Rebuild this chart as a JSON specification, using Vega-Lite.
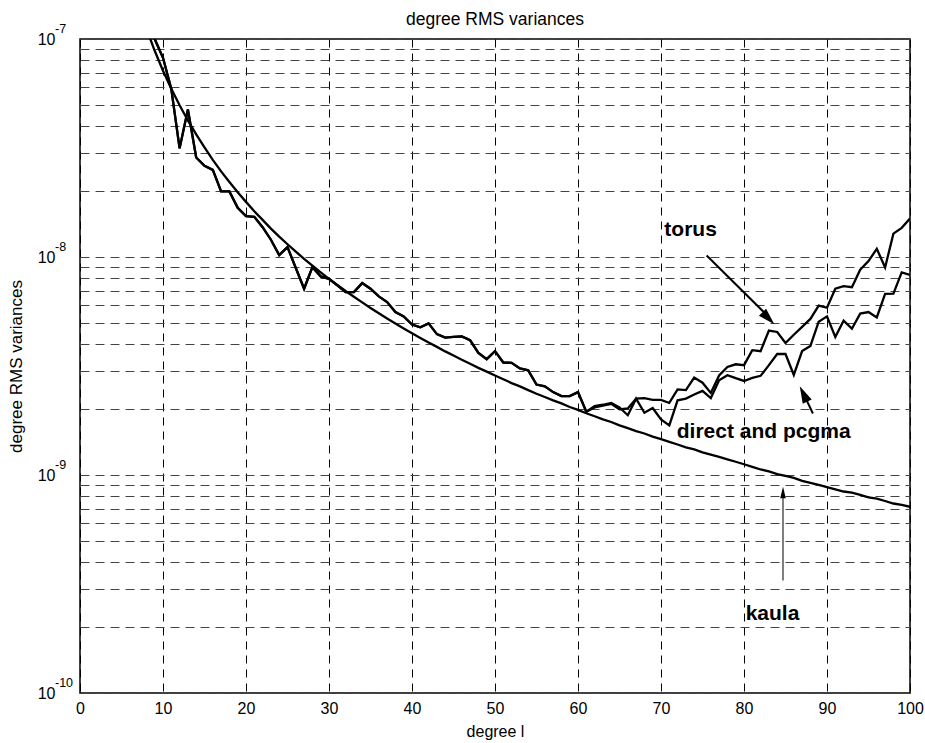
{
  "$schema": "https://vega.github.io/schema/vega-lite/v6.json",
  "width": 830,
  "height": 654,
  "autosize": {"type": "none"},
  "padding": {"left": 80, "top": 39, "right": 15, "bottom": 50},
  "background": "white",
  "config": {
    "view": {"stroke": "black", "strokeWidth": 1.5},
    "font": "Liberation Sans",
    "axis": {"labelColor": "black", "titleColor": "black", "titleFontWeight": "normal", "labelFont": "Liberation Sans", "titleFont": "Liberation Sans"}
  },
  "title": {"text": "degree RMS variances", "fontSize": 17.5, "fontWeight": "normal", "font": "Liberation Sans", "color": "black", "anchor": "middle", "frame": "group", "offset": -5},
  "datasets": {
    "curves": [
      {"l": 8, "series": "kaula", "v": 1.117e-7},
      {"l": 9, "series": "kaula", "v": 8.83e-8},
      {"l": 10, "series": "kaula", "v": 7.15e-8},
      {"l": 11, "series": "kaula", "v": 5.91e-8},
      {"l": 12, "series": "kaula", "v": 4.97e-8},
      {"l": 13, "series": "kaula", "v": 4.23e-8},
      {"l": 14, "series": "kaula", "v": 3.65e-8},
      {"l": 15, "series": "kaula", "v": 3.18e-8},
      {"l": 16, "series": "kaula", "v": 2.79e-8},
      {"l": 17, "series": "kaula", "v": 2.47e-8},
      {"l": 18, "series": "kaula", "v": 2.21e-8},
      {"l": 19, "series": "kaula", "v": 1.98e-8},
      {"l": 20, "series": "kaula", "v": 1.79e-8},
      {"l": 21, "series": "kaula", "v": 1.62e-8},
      {"l": 22, "series": "kaula", "v": 1.48e-8},
      {"l": 23, "series": "kaula", "v": 1.35e-8},
      {"l": 24, "series": "kaula", "v": 1.24e-8},
      {"l": 25, "series": "kaula", "v": 1.144e-8},
      {"l": 26, "series": "kaula", "v": 1.058e-8},
      {"l": 27, "series": "kaula", "v": 9.81e-9},
      {"l": 28, "series": "kaula", "v": 9.12e-9},
      {"l": 29, "series": "kaula", "v": 8.5e-9},
      {"l": 30, "series": "kaula", "v": 7.94e-9},
      {"l": 31, "series": "kaula", "v": 7.44e-9},
      {"l": 32, "series": "kaula", "v": 6.98e-9},
      {"l": 33, "series": "kaula", "v": 6.57e-9},
      {"l": 34, "series": "kaula", "v": 6.19e-9},
      {"l": 35, "series": "kaula", "v": 5.84e-9},
      {"l": 36, "series": "kaula", "v": 5.52e-9},
      {"l": 37, "series": "kaula", "v": 5.22e-9},
      {"l": 38, "series": "kaula", "v": 4.95e-9},
      {"l": 39, "series": "kaula", "v": 4.7e-9},
      {"l": 40, "series": "kaula", "v": 4.47e-9},
      {"l": 41, "series": "kaula", "v": 4.25e-9},
      {"l": 42, "series": "kaula", "v": 4.05e-9},
      {"l": 43, "series": "kaula", "v": 3.87e-9},
      {"l": 44, "series": "kaula", "v": 3.69e-9},
      {"l": 45, "series": "kaula", "v": 3.53e-9},
      {"l": 46, "series": "kaula", "v": 3.38e-9},
      {"l": 47, "series": "kaula", "v": 3.24e-9},
      {"l": 48, "series": "kaula", "v": 3.1e-9},
      {"l": 49, "series": "kaula", "v": 2.98e-9},
      {"l": 50, "series": "kaula", "v": 2.86e-9},
      {"l": 51, "series": "kaula", "v": 2.75e-9},
      {"l": 52, "series": "kaula", "v": 2.64e-9},
      {"l": 53, "series": "kaula", "v": 2.55e-9},
      {"l": 54, "series": "kaula", "v": 2.45e-9},
      {"l": 55, "series": "kaula", "v": 2.36e-9},
      {"l": 56, "series": "kaula", "v": 2.28e-9},
      {"l": 57, "series": "kaula", "v": 2.2e-9},
      {"l": 58, "series": "kaula", "v": 2.13e-9},
      {"l": 59, "series": "kaula", "v": 2.05e-9},
      {"l": 60, "series": "kaula", "v": 1.99e-9},
      {"l": 61, "series": "kaula", "v": 1.92e-9},
      {"l": 62, "series": "kaula", "v": 1.86e-9},
      {"l": 63, "series": "kaula", "v": 1.8e-9},
      {"l": 64, "series": "kaula", "v": 1.75e-9},
      {"l": 65, "series": "kaula", "v": 1.69e-9},
      {"l": 66, "series": "kaula", "v": 1.64e-9},
      {"l": 67, "series": "kaula", "v": 1.59e-9},
      {"l": 68, "series": "kaula", "v": 1.55e-9},
      {"l": 69, "series": "kaula", "v": 1.5e-9},
      {"l": 70, "series": "kaula", "v": 1.46e-9},
      {"l": 71, "series": "kaula", "v": 1.42e-9},
      {"l": 72, "series": "kaula", "v": 1.38e-9},
      {"l": 73, "series": "kaula", "v": 1.34e-9},
      {"l": 74, "series": "kaula", "v": 1.31e-9},
      {"l": 75, "series": "kaula", "v": 1.27e-9},
      {"l": 76, "series": "kaula", "v": 1.24e-9},
      {"l": 77, "series": "kaula", "v": 1.21e-9},
      {"l": 78, "series": "kaula", "v": 1.18e-9},
      {"l": 79, "series": "kaula", "v": 1.15e-9},
      {"l": 80, "series": "kaula", "v": 1.12e-9},
      {"l": 81, "series": "kaula", "v": 1.09e-9},
      {"l": 82, "series": "kaula", "v": 1.06e-9},
      {"l": 83, "series": "kaula", "v": 1.04e-9},
      {"l": 84, "series": "kaula", "v": 1.01e-9},
      {"l": 85, "series": "kaula", "v": 9.9e-10},
      {"l": 86, "series": "kaula", "v": 9.7e-10},
      {"l": 87, "series": "kaula", "v": 9.4e-10},
      {"l": 88, "series": "kaula", "v": 9.2e-10},
      {"l": 89, "series": "kaula", "v": 9.0e-10},
      {"l": 90, "series": "kaula", "v": 8.8e-10},
      {"l": 91, "series": "kaula", "v": 8.6e-10},
      {"l": 92, "series": "kaula", "v": 8.4e-10},
      {"l": 93, "series": "kaula", "v": 8.3e-10},
      {"l": 94, "series": "kaula", "v": 8.1e-10},
      {"l": 95, "series": "kaula", "v": 7.9e-10},
      {"l": 96, "series": "kaula", "v": 7.8e-10},
      {"l": 97, "series": "kaula", "v": 7.6e-10},
      {"l": 98, "series": "kaula", "v": 7.4e-10},
      {"l": 99, "series": "kaula", "v": 7.3e-10},
      {"l": 100, "series": "kaula", "v": 7.15e-10},

      {"l": 8, "series": "direct and pcgma", "v": 1.3e-7},
      {"l": 9, "series": "direct and pcgma", "v": 1.0e-7},
      {"l": 10, "series": "direct and pcgma", "v": 8.2e-8},
      {"l": 11, "series": "direct and pcgma", "v": 5.9e-8},
      {"l": 12, "series": "direct and pcgma", "v": 3.15e-8},
      {"l": 13, "series": "direct and pcgma", "v": 4.75e-8},
      {"l": 14, "series": "direct and pcgma", "v": 2.86e-8},
      {"l": 15, "series": "direct and pcgma", "v": 2.62e-8},
      {"l": 16, "series": "direct and pcgma", "v": 2.51e-8},
      {"l": 17, "series": "direct and pcgma", "v": 2.0e-8},
      {"l": 18, "series": "direct and pcgma", "v": 2.0e-8},
      {"l": 19, "series": "direct and pcgma", "v": 1.68e-8},
      {"l": 20, "series": "direct and pcgma", "v": 1.54e-8},
      {"l": 21, "series": "direct and pcgma", "v": 1.53e-8},
      {"l": 22, "series": "direct and pcgma", "v": 1.37e-8},
      {"l": 23, "series": "direct and pcgma", "v": 1.2e-8},
      {"l": 24, "series": "direct and pcgma", "v": 1.02e-8},
      {"l": 25, "series": "direct and pcgma", "v": 1.11e-8},
      {"l": 26, "series": "direct and pcgma", "v": 8.9e-9},
      {"l": 27, "series": "direct and pcgma", "v": 7.15e-9},
      {"l": 28, "series": "direct and pcgma", "v": 8.98e-9},
      {"l": 29, "series": "direct and pcgma", "v": 8.15e-9},
      {"l": 30, "series": "direct and pcgma", "v": 7.94e-9},
      {"l": 31, "series": "direct and pcgma", "v": 7.41e-9},
      {"l": 32, "series": "direct and pcgma", "v": 6.9e-9},
      {"l": 33, "series": "direct and pcgma", "v": 6.9e-9},
      {"l": 34, "series": "direct and pcgma", "v": 7.59e-9},
      {"l": 35, "series": "direct and pcgma", "v": 7.15e-9},
      {"l": 36, "series": "direct and pcgma", "v": 6.6e-9},
      {"l": 37, "series": "direct and pcgma", "v": 6.21e-9},
      {"l": 38, "series": "direct and pcgma", "v": 5.59e-9},
      {"l": 39, "series": "direct and pcgma", "v": 5.34e-9},
      {"l": 40, "series": "direct and pcgma", "v": 4.9e-9},
      {"l": 41, "series": "direct and pcgma", "v": 4.76e-9},
      {"l": 42, "series": "direct and pcgma", "v": 4.96e-9},
      {"l": 43, "series": "direct and pcgma", "v": 4.43e-9},
      {"l": 44, "series": "direct and pcgma", "v": 4.27e-9},
      {"l": 45, "series": "direct and pcgma", "v": 4.3e-9},
      {"l": 46, "series": "direct and pcgma", "v": 4.32e-9},
      {"l": 47, "series": "direct and pcgma", "v": 4.15e-9},
      {"l": 48, "series": "direct and pcgma", "v": 3.63e-9},
      {"l": 49, "series": "direct and pcgma", "v": 3.4e-9},
      {"l": 50, "series": "direct and pcgma", "v": 3.7e-9},
      {"l": 51, "series": "direct and pcgma", "v": 3.28e-9},
      {"l": 52, "series": "direct and pcgma", "v": 3.27e-9},
      {"l": 53, "series": "direct and pcgma", "v": 3.08e-9},
      {"l": 54, "series": "direct and pcgma", "v": 3.02e-9},
      {"l": 55, "series": "direct and pcgma", "v": 2.6e-9},
      {"l": 56, "series": "direct and pcgma", "v": 2.55e-9},
      {"l": 57, "series": "direct and pcgma", "v": 2.4e-9},
      {"l": 58, "series": "direct and pcgma", "v": 2.3e-9},
      {"l": 59, "series": "direct and pcgma", "v": 2.3e-9},
      {"l": 60, "series": "direct and pcgma", "v": 2.4e-9},
      {"l": 61, "series": "direct and pcgma", "v": 1.95e-9},
      {"l": 62, "series": "direct and pcgma", "v": 2.07e-9},
      {"l": 63, "series": "direct and pcgma", "v": 2.1e-9},
      {"l": 64, "series": "direct and pcgma", "v": 2.14e-9},
      {"l": 65, "series": "direct and pcgma", "v": 2.04e-9},
      {"l": 66, "series": "direct and pcgma", "v": 1.88e-9},
      {"l": 67, "series": "direct and pcgma", "v": 2.24e-9},
      {"l": 68, "series": "direct and pcgma", "v": 1.93e-9},
      {"l": 69, "series": "direct and pcgma", "v": 2.03e-9},
      {"l": 70, "series": "direct and pcgma", "v": 1.8e-9},
      {"l": 71, "series": "direct and pcgma", "v": 1.69e-9},
      {"l": 72, "series": "direct and pcgma", "v": 2.2e-9},
      {"l": 73, "series": "direct and pcgma", "v": 2.24e-9},
      {"l": 74, "series": "direct and pcgma", "v": 2.34e-9},
      {"l": 75, "series": "direct and pcgma", "v": 2.43e-9},
      {"l": 76, "series": "direct and pcgma", "v": 2.25e-9},
      {"l": 77, "series": "direct and pcgma", "v": 2.72e-9},
      {"l": 78, "series": "direct and pcgma", "v": 2.87e-9},
      {"l": 79, "series": "direct and pcgma", "v": 2.78e-9},
      {"l": 80, "series": "direct and pcgma", "v": 2.7e-9},
      {"l": 81, "series": "direct and pcgma", "v": 2.79e-9},
      {"l": 82, "series": "direct and pcgma", "v": 2.85e-9},
      {"l": 83, "series": "direct and pcgma", "v": 3.19e-9},
      {"l": 84, "series": "direct and pcgma", "v": 3.59e-9},
      {"l": 85, "series": "direct and pcgma", "v": 3.59e-9},
      {"l": 86, "series": "direct and pcgma", "v": 2.88e-9},
      {"l": 87, "series": "direct and pcgma", "v": 3.7e-9},
      {"l": 88, "series": "direct and pcgma", "v": 3.91e-9},
      {"l": 89, "series": "direct and pcgma", "v": 5.05e-9},
      {"l": 90, "series": "direct and pcgma", "v": 5.34e-9},
      {"l": 91, "series": "direct and pcgma", "v": 4.3e-9},
      {"l": 92, "series": "direct and pcgma", "v": 5.1e-9},
      {"l": 93, "series": "direct and pcgma", "v": 4.69e-9},
      {"l": 94, "series": "direct and pcgma", "v": 5.5e-9},
      {"l": 95, "series": "direct and pcgma", "v": 5.59e-9},
      {"l": 96, "series": "direct and pcgma", "v": 5.28e-9},
      {"l": 97, "series": "direct and pcgma", "v": 6.77e-9},
      {"l": 98, "series": "direct and pcgma", "v": 6.79e-9},
      {"l": 99, "series": "direct and pcgma", "v": 8.5e-9},
      {"l": 100, "series": "direct and pcgma", "v": 8.27e-9},

      {"l": 8, "series": "torus", "v": 1.3e-7},
      {"l": 9, "series": "torus", "v": 1.0e-7},
      {"l": 10, "series": "torus", "v": 8.2e-8},
      {"l": 11, "series": "torus", "v": 5.9e-8},
      {"l": 12, "series": "torus", "v": 3.15e-8},
      {"l": 13, "series": "torus", "v": 4.75e-8},
      {"l": 14, "series": "torus", "v": 2.86e-8},
      {"l": 15, "series": "torus", "v": 2.62e-8},
      {"l": 16, "series": "torus", "v": 2.51e-8},
      {"l": 17, "series": "torus", "v": 2.0e-8},
      {"l": 18, "series": "torus", "v": 2.0e-8},
      {"l": 19, "series": "torus", "v": 1.68e-8},
      {"l": 20, "series": "torus", "v": 1.54e-8},
      {"l": 21, "series": "torus", "v": 1.53e-8},
      {"l": 22, "series": "torus", "v": 1.37e-8},
      {"l": 23, "series": "torus", "v": 1.2e-8},
      {"l": 24, "series": "torus", "v": 1.02e-8},
      {"l": 25, "series": "torus", "v": 1.11e-8},
      {"l": 26, "series": "torus", "v": 8.9e-9},
      {"l": 27, "series": "torus", "v": 7.15e-9},
      {"l": 28, "series": "torus", "v": 8.98e-9},
      {"l": 29, "series": "torus", "v": 8.15e-9},
      {"l": 30, "series": "torus", "v": 7.94e-9},
      {"l": 31, "series": "torus", "v": 7.41e-9},
      {"l": 32, "series": "torus", "v": 6.9e-9},
      {"l": 33, "series": "torus", "v": 6.9e-9},
      {"l": 34, "series": "torus", "v": 7.59e-9},
      {"l": 35, "series": "torus", "v": 7.15e-9},
      {"l": 36, "series": "torus", "v": 6.6e-9},
      {"l": 37, "series": "torus", "v": 6.21e-9},
      {"l": 38, "series": "torus", "v": 5.59e-9},
      {"l": 39, "series": "torus", "v": 5.34e-9},
      {"l": 40, "series": "torus", "v": 4.9e-9},
      {"l": 41, "series": "torus", "v": 4.76e-9},
      {"l": 42, "series": "torus", "v": 4.96e-9},
      {"l": 43, "series": "torus", "v": 4.43e-9},
      {"l": 44, "series": "torus", "v": 4.27e-9},
      {"l": 45, "series": "torus", "v": 4.3e-9},
      {"l": 46, "series": "torus", "v": 4.32e-9},
      {"l": 47, "series": "torus", "v": 4.15e-9},
      {"l": 48, "series": "torus", "v": 3.63e-9},
      {"l": 49, "series": "torus", "v": 3.4e-9},
      {"l": 50, "series": "torus", "v": 3.7e-9},
      {"l": 51, "series": "torus", "v": 3.28e-9},
      {"l": 52, "series": "torus", "v": 3.27e-9},
      {"l": 53, "series": "torus", "v": 3.08e-9},
      {"l": 54, "series": "torus", "v": 3.02e-9},
      {"l": 55, "series": "torus", "v": 2.6e-9},
      {"l": 56, "series": "torus", "v": 2.55e-9},
      {"l": 57, "series": "torus", "v": 2.4e-9},
      {"l": 58, "series": "torus", "v": 2.3e-9},
      {"l": 59, "series": "torus", "v": 2.3e-9},
      {"l": 60, "series": "torus", "v": 2.4e-9},
      {"l": 61, "series": "torus", "v": 1.95e-9},
      {"l": 62, "series": "torus", "v": 2.04e-9},
      {"l": 63, "series": "torus", "v": 2.08e-9},
      {"l": 64, "series": "torus", "v": 2.12e-9},
      {"l": 65, "series": "torus", "v": 2.0e-9},
      {"l": 66, "series": "torus", "v": 2.02e-9},
      {"l": 67, "series": "torus", "v": 2.24e-9},
      {"l": 68, "series": "torus", "v": 2.25e-9},
      {"l": 69, "series": "torus", "v": 2.21e-9},
      {"l": 70, "series": "torus", "v": 2.21e-9},
      {"l": 71, "series": "torus", "v": 2.14e-9},
      {"l": 72, "series": "torus", "v": 2.47e-9},
      {"l": 73, "series": "torus", "v": 2.45e-9},
      {"l": 74, "series": "torus", "v": 2.8e-9},
      {"l": 75, "series": "torus", "v": 2.65e-9},
      {"l": 76, "series": "torus", "v": 2.38e-9},
      {"l": 77, "series": "torus", "v": 2.86e-9},
      {"l": 78, "series": "torus", "v": 3.13e-9},
      {"l": 79, "series": "torus", "v": 3.22e-9},
      {"l": 80, "series": "torus", "v": 3.19e-9},
      {"l": 81, "series": "torus", "v": 3.74e-9},
      {"l": 82, "series": "torus", "v": 3.7e-9},
      {"l": 83, "series": "torus", "v": 4.6e-9},
      {"l": 84, "series": "torus", "v": 4.53e-9},
      {"l": 85, "series": "torus", "v": 4.03e-9},
      {"l": 86, "series": "torus", "v": 4.4e-9},
      {"l": 87, "series": "torus", "v": 4.78e-9},
      {"l": 88, "series": "torus", "v": 5.2e-9},
      {"l": 89, "series": "torus", "v": 5.98e-9},
      {"l": 90, "series": "torus", "v": 5.85e-9},
      {"l": 91, "series": "torus", "v": 7.15e-9},
      {"l": 92, "series": "torus", "v": 7.35e-9},
      {"l": 93, "series": "torus", "v": 7.27e-9},
      {"l": 94, "series": "torus", "v": 8.75e-9},
      {"l": 95, "series": "torus", "v": 9.58e-9},
      {"l": 96, "series": "torus", "v": 1.09e-8},
      {"l": 97, "series": "torus", "v": 8.95e-9},
      {"l": 98, "series": "torus", "v": 1.28e-8},
      {"l": 99, "series": "torus", "v": 1.36e-8},
      {"l": 100, "series": "torus", "v": 1.5e-8}
    ],
    "labels": [
      {"text": "torus", "l": 70.4, "v": 1.337e-8},
      {"text": "direct and pcgma", "l": 71.9, "v": 1.57e-9},
      {"text": "kaula", "l": 80.2, "v": 2.31e-10}
    ],
    "exponents": [
      {"v": 1e-7, "e": "-7"},
      {"v": 1e-8, "e": "-8"},
      {"v": 1e-9, "e": "-9"},
      {"v": 1e-10, "e": "-10"}
    ]
  },
  "layer": [
    {
      "data": {"name": "curves"},
      "mark": {"type": "line", "clip": true, "color": "black", "strokeWidth": 2.3},
      "encoding": {
        "x": {
          "field": "l", "type": "quantitative",
          "scale": {"domain": [0, 100], "nice": false, "zero": false},
          "axis": {
            "title": "degree l", "values": [0, 10, 20, 30, 40, 50, 60, 70, 80, 90, 100],
            "grid": true, "gridColor": "black", "gridDash": [8, 6], "gridWidth": 1, "gridOpacity": 1,
            "domain": false, "ticks": false, "tickSize": 0,
            "labelFontSize": 16, "labelPadding": 7, "labelFlush": false, "labelOverlap": false,
            "titleFontSize": 16, "titlePadding": 7
          }
        },
        "y": {
          "field": "v", "type": "quantitative",
          "scale": {"type": "log", "domain": [1e-10, 1e-7], "nice": false},
          "axis": {
            "title": "degree RMS variances",
            "values": [1e-10, 2e-10, 3e-10, 4e-10, 5e-10, 6e-10, 7e-10, 8e-10, 9e-10, 1e-9, 2e-9, 3e-9, 4e-9, 5e-9, 6e-9, 7e-9, 8e-9, 9e-9, 1e-8, 2e-8, 3e-8, 4e-8, 5e-8, 6e-8, 7e-8, 8e-8, 9e-8, 1e-7],
            "labelExpr": "abs(datum.value-1e-7)<1e-9 || abs(datum.value-1e-8)<1e-10 || abs(datum.value-1e-9)<1e-11 || abs(datum.value-1e-10)<1e-12 ? '10' : ''",
            "grid": true, "gridColor": "#444444", "gridDash": [9, 6], "gridWidth": 1, "gridOpacity": 1,
            "domain": false, "ticks": false, "tickSize": 0,
            "labelFontSize": 16, "labelAlign": "right", "labelPadding": 25, "labelOverlap": false, "labelFlush": false, "labelBound": false,
            "titleFontSize": 17, "titlePadding": 12
          }
        },
        "detail": {"field": "series", "type": "nominal"}
      }
    },
    {
      "data": {"name": "exponents"},
      "mark": {"type": "text", "align": "left", "baseline": "middle", "fontSize": 12.5, "font": "Liberation Sans", "color": "black", "dx": -25, "dy": -10, "clip": false},
      "encoding": {
        "x": {"datum": 0, "type": "quantitative"},
        "y": {"field": "v", "type": "quantitative"},
        "text": {"field": "e"}
      }
    },
    {
      "data": {"name": "labels"},
      "mark": {"type": "text", "align": "left", "baseline": "middle", "fontSize": 21, "fontWeight": "bold", "font": "Liberation Sans", "color": "black"},
      "encoding": {
        "x": {"field": "l", "type": "quantitative"},
        "y": {"field": "v", "type": "quantitative"},
        "text": {"field": "text"}
      }
    },
    {
      "data": {"values": [
        {"l": 75.5, "v": 1.016e-8, "l2": 83.0, "v2": 5.3e-9},
        {"l": 88.3, "v": 1.915e-9, "l2": 87.2, "v2": 2.35e-9}
      ]},
      "mark": {"type": "rule", "color": "black", "strokeWidth": 2},
      "encoding": {
        "x": {"field": "l", "type": "quantitative"},
        "y": {"field": "v", "type": "quantitative"},
        "x2": {"field": "l2"},
        "y2": {"field": "v2"}
      }
    },
    {
      "data": {"values": [{"l": 84.7, "v": 3.28e-10, "l2": 84.7, "v2": 8.2e-10}]},
      "mark": {"type": "rule", "color": "black", "strokeWidth": 1},
      "encoding": {
        "x": {"field": "l", "type": "quantitative"},
        "y": {"field": "v", "type": "quantitative"},
        "x2": {"field": "l2"},
        "y2": {"field": "v2"}
      }
    },
    {
      "data": {"values": [{"l": 83.66, "v": 4.91e-9}]},
      "mark": {"type": "point", "shape": "M0,0L0.5,1.7L-0.5,1.7Z", "size": 400, "filled": true, "color": "black", "opacity": 1, "strokeWidth": 0, "angle": 135.7},
      "encoding": {
        "x": {"field": "l", "type": "quantitative"},
        "y": {"field": "v", "type": "quantitative"}
      }
    },
    {
      "data": {"values": [{"l": 86.72, "v": 2.55e-9}]},
      "mark": {"type": "point", "shape": "M0,0L0.5,1.7L-0.5,1.7Z", "size": 400, "filled": true, "color": "black", "opacity": 1, "strokeWidth": 0, "angle": 334},
      "encoding": {
        "x": {"field": "l", "type": "quantitative"},
        "y": {"field": "v", "type": "quantitative"}
      }
    },
    {
      "data": {"values": [{"l": 84.7, "v": 8.83e-10}]},
      "mark": {"type": "point", "shape": "M0,0L0.28,1.15L-0.28,1.15Z", "size": 400, "filled": true, "color": "black", "opacity": 1, "strokeWidth": 0, "angle": 0},
      "encoding": {
        "x": {"field": "l", "type": "quantitative"},
        "y": {"field": "v", "type": "quantitative"}
      }
    }
  ]
}
